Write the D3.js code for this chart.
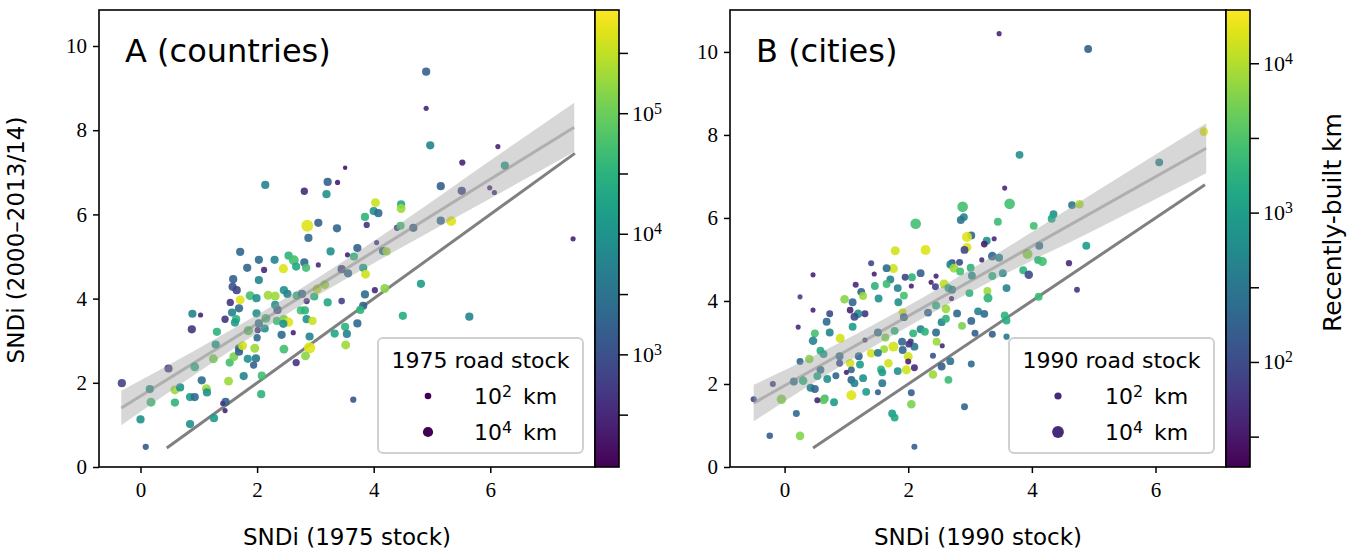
<!DOCTYPE html>
<html>
<head>
<meta charset="utf-8">
<script src="https://cdn.jsdelivr.net/npm/d3@7"></script>
<style>
  body { margin: 0; background: #fff; }
  svg { display: block; }
</style>
</head>
<body>
<svg id="chart" width="1347" height="550"></svg>
<script>
// Each point: [SNDi at start, SNDi 2000–2013/14, log10 road stock (km), log10 recently-built km]
const countryPoints = [
  [4.90, 9.39, 2.9, 3.21], [4.90, 8.52, 1.2, 2.45], [4.97, 7.64, 2.9, 3.78], [6.13, 7.61, 1.2, 2.45],
  [5.52, 7.23, 1.8, 2.45], [6.25, 7.16, 2.9, 4.15], [3.51, 7.11, 0.8, 2.26], [2.14, 6.70, 2.9, 3.78],
  [3.21, 6.77, 2.9, 3.21], [3.38, 6.76, 1.2, 2.37], [2.81, 6.55, 2.4, 2.52], [3.19, 6.48, 2.9, 3.97],
  [5.15, 6.67, 2.9, 3.21], [5.51, 6.56, 2.9, 2.83], [5.99, 6.63, 1.2, 2.52], [6.07, 6.52, 1.2, 2.45],
  [4.03, 6.28, 3.3, 5.56], [4.47, 6.24, 2.9, 4.34], [4.47, 6.14, 3.3, 5.29], [4.00, 6.08, 2.9, 3.97],
  [4.08, 6.03, 2.9, 3.40], [3.85, 5.94, 2.9, 4.53], [2.86, 5.73, 4.9, 5.67], [3.05, 5.80, 2.9, 3.21],
  [3.37, 5.67, 2.9, 3.32], [3.88, 5.75, 1.8, 2.64], [5.33, 5.84, 3.8, 5.67], [5.15, 5.85, 2.9, 3.40],
  [4.68, 5.68, 2.9, 3.21], [4.40, 5.68, 1.8, 2.64], [4.46, 5.73, 2.9, 4.72], [2.88, 5.44, 2.9, 3.40],
  [1.71, 5.11, 2.9, 3.32], [2.03, 4.92, 2.9, 3.40], [2.30, 4.92, 2.9, 3.78], [2.54, 5.02, 2.9, 4.53],
  [2.63, 4.91, 3.8, 4.72], [2.81, 4.86, 2.9, 3.32], [3.26, 5.12, 2.9, 3.97], [3.55, 5.04, 1.2, 2.45],
  [3.72, 5.20, 2.9, 3.21], [3.66, 5.00, 2.9, 4.53], [4.05, 5.33, 1.2, 2.64], [4.16, 5.13, 2.9, 3.40],
  [4.22, 5.12, 2.9, 5.29], [1.83, 4.73, 2.9, 3.32], [2.12, 4.68, 1.8, 2.52], [2.45, 4.71, 3.5, 5.67],
  [2.67, 4.76, 2.9, 4.34], [2.84, 4.73, 2.9, 4.72], [3.05, 4.80, 1.2, 2.52], [3.45, 4.70, 2.9, 2.83],
  [3.56, 4.60, 2.9, 3.40], [3.82, 4.73, 2.9, 4.15], [3.86, 4.58, 3.3, 5.56], [1.59, 4.46, 2.9, 3.21],
  [2.03, 4.44, 2.9, 3.78], [1.58, 4.28, 2.9, 3.02], [1.65, 4.20, 2.9, 2.83], [1.54, 3.91, 2.4, 2.64],
  [1.71, 3.97, 3.3, 5.67], [1.88, 4.07, 3.3, 4.72], [1.99, 4.01, 2.9, 3.97], [2.19, 4.08, 3.3, 5.29],
  [2.31, 4.06, 3.3, 5.29], [2.46, 4.20, 2.9, 3.97], [2.52, 4.11, 2.9, 3.78], [2.68, 4.07, 2.9, 4.53],
  [2.77, 4.11, 2.9, 3.40], [2.98, 4.05, 2.9, 4.53], [3.16, 4.33, 3.3, 5.29], [3.03, 4.23, 3.3, 5.48],
  [2.85, 3.94, 1.8, 2.64], [3.21, 3.91, 2.9, 4.34], [3.45, 3.94, 2.0, 2.83], [3.85, 4.10, 2.9, 3.40],
  [4.02, 4.20, 1.8, 2.52], [4.19, 4.24, 3.3, 5.18], [3.82, 3.83, 2.9, 3.21], [3.77, 3.73, 2.9, 4.53],
  [4.81, 4.35, 2.9, 4.15], [0.89, 3.64, 2.9, 3.78], [1.03, 3.61, 1.2, 2.45], [0.88, 3.27, 2.9, 2.64],
  [1.57, 3.67, 2.9, 3.78], [1.69, 3.77, 2.9, 3.40], [1.45, 3.51, 2.4, 2.64], [1.64, 3.51, 2.9, 4.53],
  [1.62, 3.43, 2.9, 4.15], [1.99, 3.65, 2.9, 3.97], [2.35, 3.73, 2.9, 2.90], [2.31, 3.85, 2.9, 3.97],
  [2.15, 3.53, 3.3, 4.72], [2.03, 3.41, 2.9, 3.59], [2.13, 3.29, 2.9, 3.97], [2.01, 3.25, 1.8, 2.64],
  [2.34, 3.47, 2.9, 4.72], [2.46, 3.51, 2.9, 5.10], [2.54, 3.44, 3.5, 5.67], [2.45, 3.40, 2.9, 3.97],
  [2.85, 3.51, 2.9, 3.97], [2.95, 3.47, 2.9, 5.56], [2.75, 3.72, 2.9, 4.72], [2.82, 3.72, 2.9, 4.53],
  [1.85, 3.24, 3.5, 4.91], [2.42, 3.14, 2.9, 3.40], [2.62, 3.19, 1.2, 2.45], [2.90, 3.10, 2.9, 3.78],
  [3.33, 3.17, 2.9, 4.34], [3.51, 3.33, 2.9, 4.53], [3.54, 3.16, 2.9, 3.78], [3.72, 3.41, 2.9, 3.40],
  [4.50, 3.59, 2.9, 4.42], [5.64, 3.57, 2.9, 3.78], [1.31, 3.21, 2.9, 4.53], [1.29, 2.91, 2.9, 4.15],
  [0.48, 2.34, 2.9, 2.75], [0.16, 1.85, 2.9, 4.15], [-0.32, 1.99, 2.9, 2.83], [0.18, 1.54, 3.3, 4.72],
  [0.00, 1.13, 2.9, 3.97], [0.09, 0.48, 1.8, 3.13], [0.59, 1.83, 3.3, 5.29], [0.68, 1.89, 2.9, 3.97],
  [0.59, 1.53, 2.9, 4.53], [0.85, 1.66, 2.9, 4.15], [0.93, 1.66, 2.9, 3.40], [0.93, 2.38, 3.3, 4.53],
  [1.05, 2.06, 2.9, 3.40], [1.13, 1.86, 3.3, 5.29], [1.14, 1.77, 2.9, 3.97], [1.25, 2.57, 3.3, 5.10],
  [1.51, 2.04, 3.3, 5.29], [1.53, 2.48, 2.9, 4.72], [1.60, 2.62, 3.3, 5.10], [1.69, 2.74, 2.9, 3.21],
  [1.69, 2.82, 2.9, 3.32], [1.75, 2.88, 3.3, 5.59], [1.96, 2.82, 3.3, 5.29], [1.84, 2.57, 2.9, 3.97],
  [2.00, 3.07, 2.4, 3.40], [1.98, 2.58, 2.9, 3.59], [1.94, 2.42, 2.4, 3.21], [1.77, 2.16, 2.9, 3.78],
  [2.08, 2.17, 2.9, 4.72], [2.07, 1.73, 2.9, 4.53], [2.46, 2.80, 3.3, 4.72], [2.90, 2.83, 4.6, 5.67],
  [2.83, 2.64, 3.3, 5.18], [2.67, 2.48, 2.4, 2.64], [3.52, 2.90, 3.3, 5.29], [1.46, 1.55, 2.9, 3.21],
  [1.41, 1.51, 1.2, 2.64], [1.45, 1.34, 1.2, 2.45], [1.26, 1.16, 2.9, 4.15], [0.85, 1.02, 2.9, 3.97],
  [3.65, 1.60, 1.8, 3.02], [7.42, 5.42, 1.2, 2.45]
];

const cityPoints = [
  [3.47, 10.44, 1.1, 1.61], [4.91, 10.07, 2.3, 2.22], [6.78, 8.08, 2.6, 4.21], [3.80, 7.52, 2.3, 2.83],
  [6.06, 7.34, 2.3, 2.59], [3.56, 6.72, 1.1, 1.67], [3.64, 6.34, 3.5, 3.44], [2.88, 6.27, 3.5, 3.44],
  [4.65, 6.31, 2.3, 2.52], [4.77, 6.33, 2.6, 3.99], [4.35, 6.09, 2.3, 2.83], [4.32, 5.98, 2.3, 3.14],
  [4.03, 5.81, 2.3, 3.44], [3.45, 5.91, 2.3, 3.38], [2.90, 6.02, 2.3, 2.68], [2.85, 5.95, 2.3, 2.46],
  [2.12, 5.86, 3.5, 3.44], [3.02, 5.58, 2.3, 2.31], [2.95, 5.54, 3.2, 4.21], [3.39, 5.50, 1.1, 1.67],
  [3.27, 5.45, 2.3, 2.83], [3.23, 5.37, 1.8, 1.54], [2.95, 5.29, 2.8, 4.21], [2.91, 5.23, 2.3, 1.97],
  [2.28, 5.23, 3.2, 4.21], [1.79, 5.21, 2.8, 4.15], [4.12, 5.33, 2.3, 2.52], [4.88, 5.33, 2.3, 2.98],
  [3.93, 5.13, 3.2, 3.81], [4.10, 4.99, 2.3, 3.29], [4.17, 4.95, 2.8, 3.44], [4.60, 4.91, 1.6, 1.67],
  [3.36, 5.08, 2.6, 2.31], [3.47, 5.04, 2.3, 2.68], [3.19, 4.99, 1.1, 1.67], [2.71, 4.92, 1.9, 1.91],
  [2.83, 4.93, 1.9, 1.97], [2.68, 4.88, 2.3, 2.68], [2.74, 4.79, 2.8, 3.90], [2.84, 4.71, 2.3, 3.44],
  [3.01, 4.80, 2.3, 3.29], [3.03, 4.61, 2.3, 2.83], [3.53, 4.67, 2.3, 2.83], [3.86, 4.74, 2.3, 3.29],
  [3.95, 4.63, 2.6, 1.97], [3.36, 4.60, 2.3, 3.29], [3.59, 4.31, 2.3, 2.68], [3.28, 4.24, 2.3, 3.90],
  [3.29, 4.07, 2.8, 3.29], [2.99, 4.19, 2.3, 3.29], [4.73, 4.27, 1.4, 1.76], [4.11, 4.10, 2.3, 3.38],
  [2.58, 4.41, 2.8, 4.05], [2.65, 4.31, 2.3, 3.14], [2.71, 4.27, 2.3, 2.68], [2.44, 4.34, 1.9, 1.91],
  [2.37, 4.45, 1.1, 1.61], [2.45, 4.60, 1.1, 1.61], [2.20, 4.67, 2.3, 2.22], [2.06, 4.57, 2.3, 3.29],
  [1.95, 4.57, 1.9, 1.91], [2.05, 4.36, 1.1, 1.61], [1.93, 4.13, 2.3, 3.44], [1.83, 4.31, 2.3, 2.68],
  [1.71, 4.52, 2.3, 2.68], [1.76, 4.78, 2.8, 4.15], [1.65, 4.79, 2.3, 2.37], [1.45, 4.65, 1.1, 1.61],
  [1.40, 4.91, 1.5, 1.97], [1.65, 4.41, 2.3, 3.38], [1.46, 4.36, 2.3, 3.29], [1.15, 4.39, 1.5, 1.67],
  [1.24, 4.22, 2.3, 2.31], [1.27, 4.12, 2.3, 3.90], [0.97, 4.04, 2.6, 3.81], [1.10, 3.97, 2.3, 2.31],
  [1.52, 4.06, 2.3, 2.83], [1.84, 3.97, 2.3, 2.83], [0.46, 4.63, 1.1, 1.61], [0.25, 4.10, 1.1, 1.91],
  [0.46, 3.78, 1.1, 1.61], [0.73, 3.69, 1.9, 1.97], [1.06, 3.78, 1.8, 1.61], [1.30, 3.69, 1.9, 1.76],
  [1.19, 3.69, 2.6, 2.83], [1.13, 3.62, 2.3, 1.97], [1.91, 3.73, 2.3, 4.12], [1.93, 3.61, 2.3, 2.31],
  [2.32, 3.72, 2.3, 2.31], [2.45, 3.89, 2.3, 3.29], [2.61, 3.81, 2.6, 3.90], [2.79, 3.70, 2.3, 2.31],
  [3.13, 3.75, 2.3, 2.68], [3.23, 3.69, 2.3, 2.37], [3.56, 3.65, 2.3, 3.29], [3.59, 3.53, 2.3, 3.20],
  [2.54, 3.49, 2.3, 2.68], [2.61, 3.57, 2.3, 3.29], [2.87, 3.40, 2.3, 3.75], [3.02, 3.52, 2.3, 2.31],
  [0.68, 3.50, 2.3, 2.37], [1.10, 3.38, 2.3, 2.98], [0.73, 3.24, 2.3, 2.68], [0.49, 3.22, 2.3, 3.44],
  [0.22, 3.37, 1.1, 1.67], [0.46, 3.04, 2.6, 2.68], [0.90, 3.10, 2.8, 4.15], [1.30, 3.06, 1.1, 1.76],
  [1.51, 3.24, 2.3, 2.52], [1.63, 3.12, 2.3, 3.75], [1.78, 3.28, 2.3, 3.29], [1.90, 3.02, 2.3, 2.31],
  [2.04, 3.02, 1.5, 1.76], [2.08, 3.22, 2.3, 3.29], [2.20, 3.32, 2.3, 2.68], [2.27, 3.26, 2.3, 3.29],
  [2.45, 3.24, 2.3, 2.37], [2.46, 3.02, 2.3, 3.90], [2.55, 2.92, 1.1, 1.67], [2.10, 2.90, 2.3, 2.52],
  [2.01, 2.96, 1.9, 1.76], [1.76, 2.90, 3.2, 4.15], [1.61, 2.84, 2.3, 3.90], [1.91, 2.82, 2.3, 2.31],
  [2.00, 2.66, 2.8, 4.15], [1.40, 2.74, 2.6, 4.15], [1.51, 2.75, 2.3, 2.52], [1.20, 2.67, 2.3, 2.31],
  [0.89, 2.67, 2.3, 2.52], [0.58, 2.80, 2.3, 3.20], [0.63, 2.72, 2.3, 2.98], [0.40, 2.60, 2.6, 3.81],
  [0.25, 2.54, 1.9, 2.31], [0.58, 2.34, 2.3, 2.46], [0.89, 2.50, 1.9, 1.97], [1.06, 2.50, 2.6, 4.15],
  [1.22, 2.47, 2.3, 2.98], [1.68, 2.50, 2.6, 4.15], [1.97, 2.34, 2.8, 4.15], [2.00, 2.54, 1.5, 1.61],
  [2.10, 2.39, 1.9, 1.67], [2.68, 2.55, 2.3, 2.46], [2.54, 2.42, 2.3, 2.22], [3.02, 2.48, 1.9, 2.37],
  [2.40, 2.68, 1.5, 2.07], [1.56, 2.35, 2.3, 3.29], [1.58, 2.28, 2.3, 2.98], [1.83, 2.31, 2.3, 2.83],
  [1.08, 2.34, 1.9, 2.31], [0.83, 2.20, 1.9, 2.31], [0.69, 2.12, 2.3, 2.83], [0.53, 2.19, 2.3, 3.14],
  [0.15, 2.06, 2.3, 2.52], [0.30, 2.08, 2.6, 3.29], [-0.19, 2.00, 1.5, 1.91], [1.08, 2.10, 2.3, 2.31],
  [1.13, 2.02, 2.3, 2.68], [1.27, 2.14, 2.3, 2.83], [1.58, 2.02, 2.3, 2.52], [1.32, 1.81, 2.3, 2.98],
  [1.51, 1.80, 1.5, 2.22], [2.05, 1.79, 1.9, 2.22], [2.40, 2.23, 2.6, 3.90], [2.65, 2.10, 2.3, 3.38],
  [0.42, 1.91, 2.3, 2.68], [0.49, 1.88, 2.3, 2.31], [0.65, 1.65, 2.3, 3.38], [0.63, 1.61, 2.3, 3.60],
  [0.80, 1.56, 2.3, 2.98], [0.53, 1.61, 1.5, 1.61], [1.08, 1.73, 3.2, 4.21], [-0.05, 1.63, 3.0, 3.81],
  [-0.50, 1.63, 1.5, 1.97], [0.19, 1.29, 1.9, 2.37], [2.05, 1.51, 2.6, 3.75], [1.74, 1.29, 2.3, 2.98],
  [1.78, 1.19, 2.3, 3.14], [2.91, 1.45, 1.9, 2.31], [-0.24, 0.75, 1.7, 2.22], [0.25, 0.75, 2.6, 3.81],
  [2.10, 0.49, 1.5, 2.22], [3.36, 3.20, 1.9, 2.22], [3.08, 3.22, 1.9, 2.22], [3.59, 3.14, 1.6, 2.52],
  [2.70, 4.06, 1.1, 1.61], [1.00, 2.28, 1.1, 1.61]
];

// Least-squares fit end points and its confidence band: [x, lower, upper]
const countryFit = [[-0.33, 1.40], [7.44, 8.07]];
const countryBand = [[-0.33, 0.99, 1.81], [1.0, 2.26, 2.82], [2.6, 3.71, 4.11], [4.5, 5.23, 5.83], [6.0, 6.38, 7.28], [7.44, 7.49, 8.65]];
const cityFit = [[-0.50, 1.54], [6.82, 7.68]];
const cityBand = [[-0.50, 1.10, 1.98], [0.5, 2.06, 2.70], [1.9, 3.30, 3.80], [3.5, 4.60, 5.20], [5.0, 5.70, 6.60], [6.82, 7.08, 8.28]];

// Equal-SNDi reference line (y = x)
const countryIdentity = [0.45, 7.45];
const cityIdentity = [0.46, 6.80];

const xTicks = [0, 2, 4, 6];
const yTicks = [0, 2, 4, 6, 8, 10];
const legendStock = [2, 4];

const svg = d3.select('#chart');
const sansFont = '"DejaVu Sans", sans-serif';
const serifFont = '"Liberation Serif", "DejaVu Serif", serif';

const defs = svg.append('defs');
const grad = defs.append('linearGradient').attr('id', 'viridisGrad')
  .attr('x1', 0).attr('y1', 1).attr('x2', 0).attr('y2', 0);
d3.range(0, 1.0001, 0.05).forEach(t => {
  grad.append('stop').attr('offset', t).attr('stop-color', d3.interpolateViridis(t));
});

function supLabel(sel, base, exp, tail) {
  sel.append('tspan').text(base);
  sel.append('tspan').attr('dy', '-0.45em').attr('font-size', '0.72em').text(exp);
  if (tail) sel.append('tspan').attr('dy', '0.32em').text(tail);
}

function drawPanel(cfg) {
  const g = svg.append('g');
  const left = cfg.left, top = cfg.top, right = cfg.left + cfg.width, bottom = cfg.top + cfg.height;
  const x = d3.scaleLinear().domain(cfg.xDomain).range([left, right]);
  const y = d3.scaleLinear().domain(cfg.yDomain).range([bottom, top]);
  const color = d3.scaleSequential(d3.interpolateViridis).domain(cfg.builtDomain);
  const radius = d3.scaleLinear().domain([2, 4]).range(cfg.legendRadii);

  const clipId = 'clip' + cfg.key;
  defs.append('clipPath').attr('id', clipId).append('rect')
    .attr('x', left).attr('y', top).attr('width', cfg.width).attr('height', cfg.height);
  const plot = g.append('g').attr('clip-path', `url(#${clipId})`);

  // y = x reference
  plot.append('line')
    .attr('x1', x(cfg.identity[0])).attr('y1', y(cfg.identity[0]))
    .attr('x2', x(cfg.identity[1])).attr('y2', y(cfg.identity[1]))
    .attr('stroke', '#808080').attr('stroke-width', 3);

  // scatter
  plot.append('g').selectAll('circle').data(cfg.points).join('circle')
    .attr('cx', d => x(d[0])).attr('cy', d => y(d[1]))
    .attr('r', d => radius(d[2]))
    .attr('fill', d => color(d[3]))
    .attr('fill-opacity', 0.9);

  // regression band and line drawn over the points
  const band = d3.area().x(d => x(d[0])).y0(d => y(d[1])).y1(d => y(d[2])).curve(d3.curveMonotoneX);
  plot.append('path').datum(cfg.band).attr('d', band)
    .attr('fill', '#9a9a9a').attr('fill-opacity', 0.4);
  plot.append('path').datum(cfg.fit)
    .attr('d', d3.line().x(d => x(d[0])).y(d => y(d[1])))
    .attr('stroke', '#888').attr('stroke-opacity', 0.5).attr('stroke-width', 3).attr('fill', 'none');

  // axes
  const xAxis = g.append('g').attr('transform', `translate(0,${bottom})`)
    .call(d3.axisBottom(x).tickValues(xTicks).tickSize(6).tickPadding(9).tickFormat(d3.format('d')));
  const yAxis = g.append('g').attr('transform', `translate(${left},0)`)
    .call(d3.axisLeft(y).tickValues(yTicks).tickSize(6).tickPadding(6).tickFormat(d3.format('d')));
  [xAxis, yAxis].forEach(a => {
    a.select('.domain').remove();
    a.selectAll('.tick line').attr('stroke', '#000').attr('stroke-width', 1.5);
    a.selectAll('.tick text').attr('font-family', serifFont).attr('font-size', 21).attr('fill', '#000');
  });

  // frame
  g.append('rect').attr('x', left).attr('y', top).attr('width', cfg.width).attr('height', cfg.height)
    .attr('fill', 'none').attr('stroke', '#000').attr('stroke-width', 1.6);

  // panel title
  g.append('text').attr('x', left + 26).attr('y', top + 52)
    .attr('font-family', sansFont).attr('font-size', 32).text(cfg.title);

  // x label
  g.append('text').attr('x', (left + right) / 2).attr('y', 545).attr('text-anchor', 'middle')
    .attr('font-family', sansFont).attr('font-size', 23).text(cfg.xLabel);

  // size legend
  const lg = g.append('g');
  lg.append('rect').attr('x', cfg.legendBox[0]).attr('y', cfg.legendBox[1])
    .attr('width', cfg.legendBox[2]).attr('height', cfg.legendBox[3])
    .attr('rx', 5).attr('fill', '#fff').attr('fill-opacity', 0.85)
    .attr('stroke', '#d0d0d0').attr('stroke-width', 2);
  lg.append('text').attr('x', cfg.legendBox[0] + cfg.legendBox[2] / 2).attr('y', cfg.legendBox[1] + 30)
    .attr('text-anchor', 'middle').attr('font-family', sansFont).attr('font-size', 22).text(cfg.legendTitle);
  legendStock.forEach((s, i) => {
    const cy = cfg.legendBox[1] + 58 + i * 36;
    lg.append('circle').attr('cx', cfg.legendBox[0] + cfg.legendDotDx).attr('cy', cy)
      .attr('r', radius(s)).attr('fill', cfg.legendColor);
    const t = lg.append('text').attr('x', cfg.legendBox[0] + cfg.legendTextDx).attr('y', cy + 8)
      .attr('font-family', sansFont).attr('font-size', 22);
    supLabel(t, '10', String(s), '\u2002km');
  });

  // colorbar
  const cb = g.append('g');
  const cx0 = right, cw = cfg.cbarWidth;
  cb.append('rect').attr('x', cx0).attr('y', top).attr('width', cw).attr('height', cfg.height)
    .attr('fill', 'url(#viridisGrad)').attr('stroke', '#000').attr('stroke-width', 1.6);
  const cScale = d3.scaleLinear().domain(cfg.builtDomain).range([bottom, top]);
  const cTicks = d3.range(Math.ceil(cfg.builtDomain[0] * 2) / 2, cfg.builtDomain[1], 0.5);
  cTicks.forEach(v => {
    cb.append('line').attr('x1', cx0 + cw).attr('x2', cx0 + cw + 9)
      .attr('y1', cScale(v)).attr('y2', cScale(v)).attr('stroke', '#000').attr('stroke-width', 1.5);
    if (Number.isInteger(v)) {
      const t = cb.append('text').attr('x', cx0 + cw + 13).attr('y', cScale(v) + 7)
        .attr('font-family', serifFont).attr('font-size', 22);
      supLabel(t, '10', String(v));
    }
  });
  if (cfg.cbarLabel) {
    cb.append('text').attr('transform', `translate(${cx0 + cw + 91},${(top + bottom) / 2 - 16}) rotate(-90)`)
      .attr('text-anchor', 'middle').attr('font-family', sansFont).attr('font-size', 25).text(cfg.cbarLabel);
  }
}

drawPanel({
  key: 'A', title: 'A (countries)', xLabel: 'SNDi (1975 stock)', legendTitle: '1975 road stock',
  left: 99, top: 10, width: 496, height: 457, cbarWidth: 24,
  xDomain: [-0.712, 7.796], yDomain: [0, 10.855], builtDomain: [2.07, 5.86],
  legendRadii: [3.3, 5.1], legendColor: '#440154',
  legendBox: [378, 338, 205, 115], legendDotDx: 50, legendTextDx: 96,
  points: countryPoints, fit: countryFit, band: countryBand, identity: countryIdentity
});

drawPanel({
  key: 'B', title: 'B (cities)', xLabel: 'SNDi (1990 stock)', legendTitle: '1990 road stock',
  left: 730, top: 10, width: 496, height: 457, cbarWidth: 24,
  xDomain: [-0.883, 7.14], yDomain: [0, 11.01], builtDomain: [1.30, 4.36],
  legendRadii: [3.6, 5.9], legendColor: '#472a7a',
  legendBox: [1009, 338, 205, 115], legendDotDx: 49, legendTextDx: 96,
  points: cityPoints, fit: cityFit, band: cityBand, identity: cityIdentity,
  cbarLabel: 'Recently-built km'
});

// shared y label
svg.append('text').attr('transform', 'translate(24,240) rotate(-90)')
  .attr('text-anchor', 'middle').attr('font-family', sansFont).attr('font-size', 23)
  .text('SNDi (2000\u20132013/14)');
</script>
</body>
</html>
